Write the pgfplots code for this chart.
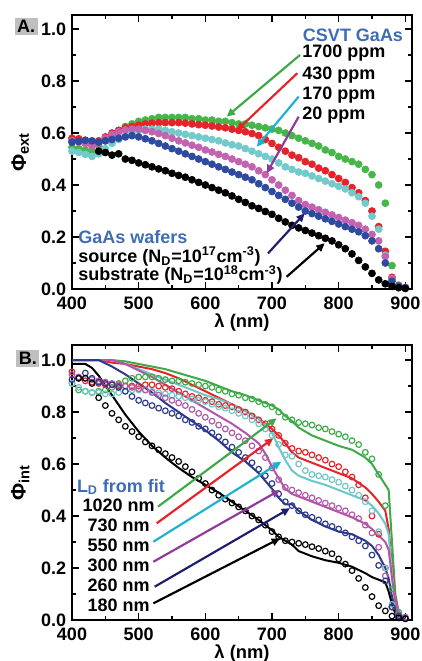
\documentclass[border=0pt]{standalone}
\usepackage{fontspec}
\setmainfont{Liberation Sans}
\usepackage{pgfplots}
\pgfplotsset{compat=1.18}
\usepackage{pgfplotstable}
\usetikzlibrary{arrows.meta}

% series colours
\definecolor{cg}{HTML}{46B649}
\definecolor{cr}{HTML}{E5232A}
\definecolor{cc}{HTML}{72CACA}
\definecolor{cm}{HTML}{C262B0}
\definecolor{cb}{HTML}{2E4A9E}
\definecolor{lg}{HTML}{3DAA47}
\definecolor{lc}{HTML}{6DC6C8}
\definecolor{lm}{HTML}{B355A8}
\definecolor{lb}{HTML}{2D3A8C}
% arrows and text
\definecolor{ac}{HTML}{1FB1D0}
\definecolor{am}{HTML}{8E3A98}
\definecolor{an}{HTML}{1E1E6E}
\definecolor{tblue}{HTML}{3E6DB5}

% panel A: external quantum yield, filled dots
\pgfplotstableread{
lam g r c m b k
400 0.545 0.58 0.53 0.57 0.565 nan
410 0.54 0.578 0.525 0.565 0.568 nan
420 0.535 0.572 0.518 0.56 0.572 nan
430 0.53 0.555 0.51 0.55 0.57 nan
440 0.55 0.57 0.52 0.56 0.565 0.53
450 0.57 0.585 0.54 0.58 0.57 0.525
460 0.59 0.60 0.56 0.595 0.575 0.515
470 0.61 0.61 0.575 0.605 0.58 0.52
480 0.625 0.62 0.59 0.612 0.585 0.50
490 0.635 0.625 0.60 0.615 0.59 0.495
500 0.645 0.63 0.61 0.615 0.585 0.485
510 0.65 0.635 0.615 0.61 0.578 0.478
520 0.655 0.638 0.615 0.605 0.57 0.47
530 0.66 0.64 0.615 0.598 0.56 0.462
540 0.66 0.64 0.61 0.59 0.55 0.455
550 0.66 0.64 0.605 0.58 0.54 0.445
560 0.66 0.64 0.60 0.57 0.53 0.437
570 0.66 0.638 0.595 0.562 0.52 0.43
580 0.655 0.635 0.59 0.553 0.51 0.42
590 0.655 0.632 0.585 0.545 0.50 0.41
600 0.65 0.63 0.58 0.535 0.49 0.40
610 0.65 0.627 0.575 0.527 0.48 0.39
620 0.645 0.623 0.57 0.518 0.47 0.38
630 0.645 0.62 0.562 0.51 0.46 0.37
640 0.64 0.615 0.555 0.50 0.45 0.358
650 0.635 0.61 0.55 0.49 0.44 0.345
660 0.635 0.605 0.54 0.48 0.43 0.333
670 0.63 0.598 0.53 0.47 0.42 0.32
680 0.625 0.59 0.52 0.455 0.405 0.31
690 0.62 0.575 0.51 0.44 0.39 0.298
700 0.615 0.56 0.50 0.42 0.375 0.287
710 0.61 0.545 0.485 0.40 0.36 0.272
720 0.60 0.53 0.47 0.38 0.345 0.258
730 0.59 0.515 0.46 0.36 0.33 0.245
740 0.58 0.505 0.45 0.34 0.315 0.235
750 0.57 0.49 0.445 0.325 0.30 0.225
760 0.56 0.48 0.435 0.315 0.29 0.215
770 0.55 0.465 0.425 0.305 0.28 0.205
780 0.535 0.455 0.415 0.295 0.27 0.195
790 0.525 0.44 0.405 0.285 0.26 0.185
800 0.51 0.425 0.395 0.275 0.25 0.17
810 0.50 0.41 0.385 0.265 0.24 0.155
820 0.49 0.39 0.37 0.255 0.23 0.135
830 0.48 0.37 0.355 0.245 0.22 0.11
840 0.46 0.34 0.33 0.23 0.205 0.085
850 0.44 0.30 0.28 0.21 0.185 0.06
860 0.40 0.24 0.23 0.185 0.155 0.035
870 0.33 0.145 0.13 0.125 0.10 0.02
880 0.09 0.045 0.04 0.04 0.03 0.01
890 0.015 0.012 0.01 0.01 0.01 0.005
900 0.005 0.005 0.005 0.005 0.005 0.002
}\extdata

% panel B: internal quantum yield, open circles
\pgfplotstableread{
lam g r c m b k
400 0.91 0.955 0.91 0.945 0.925 nan
410 0.885 0.93 0.895 0.935 0.93 0.93
420 0.88 0.92 0.88 0.93 0.95 0.93
430 0.875 0.915 0.875 0.925 0.93 0.91
440 0.88 0.91 0.875 0.92 0.915 0.855
450 0.885 0.905 0.87 0.915 0.91 0.825
460 0.895 0.905 0.87 0.91 0.905 0.795
470 0.91 0.90 0.875 0.905 0.895 0.77
480 0.92 0.90 0.88 0.90 0.88 0.745
490 0.93 0.90 0.885 0.895 0.86 0.725
500 0.935 0.90 0.885 0.89 0.845 0.705
510 0.935 0.905 0.885 0.885 0.835 0.685
520 0.935 0.905 0.88 0.875 0.825 0.67
530 0.93 0.90 0.875 0.865 0.815 0.655
540 0.925 0.895 0.87 0.855 0.805 0.64
550 0.92 0.89 0.865 0.845 0.795 0.625
560 0.92 0.88 0.86 0.835 0.785 0.61
570 0.915 0.87 0.855 0.825 0.77 0.59
580 0.91 0.86 0.85 0.81 0.76 0.57
590 0.905 0.855 0.845 0.795 0.745 0.545
600 0.90 0.845 0.84 0.78 0.735 0.525
610 0.895 0.84 0.83 0.765 0.72 0.50
620 0.885 0.83 0.82 0.75 0.705 0.48
630 0.88 0.825 0.815 0.735 0.685 0.465
640 0.87 0.82 0.805 0.72 0.665 0.45
650 0.865 0.81 0.795 0.705 0.645 0.435
660 0.855 0.80 0.785 0.69 0.625 0.42
670 0.85 0.785 0.77 0.67 0.605 0.40
680 0.84 0.77 0.755 0.65 0.58 0.385
690 0.83 0.755 0.735 0.625 0.555 0.365
700 0.82 0.735 0.71 0.585 0.525 0.34
710 0.80 0.71 0.675 0.54 0.485 0.32
720 0.78 0.68 0.635 0.51 0.455 0.305
730 0.77 0.66 0.63 0.50 0.44 0.30
740 0.76 0.65 0.60 0.49 0.42 0.295
750 0.755 0.645 0.575 0.48 0.405 0.29
760 0.75 0.635 0.56 0.47 0.395 0.282
770 0.74 0.625 0.555 0.46 0.385 0.275
780 0.735 0.615 0.55 0.45 0.37 0.265
790 0.725 0.60 0.54 0.44 0.36 0.255
800 0.715 0.59 0.53 0.43 0.35 0.235
810 0.705 0.57 0.515 0.42 0.335 0.215
820 0.69 0.55 0.50 0.405 0.32 0.19
830 0.675 0.52 0.48 0.39 0.305 0.16
840 0.645 0.47 0.455 0.365 0.285 0.125
850 0.62 0.40 0.42 0.335 0.25 0.09
860 0.56 0.33 0.34 0.28 0.21 0.055
870 0.44 0.20 0.20 0.17 0.15 0.035
880 0.12 0.05 0.06 0.05 0.05 0.015
890 0.03 0.02 0.02 0.02 0.015 0.008
900 0.01 0.01 0.01 0.01 0.005 0.005
}\intdata

% panel B: fits (solid lines)
\pgfplotstableread{
lam g r c m b k
400 1.0 1.0 1.0 1.0 1.0 0.985
420 1.0 1.0 1.0 1.0 1.0 0.985
430 1.0 1.0 1.0 1.0 1.0 0.97
440 1.0 1.0 1.0 1.0 1.0 0.94
460 1.0 0.99 1.0 1.0 0.975 0.865
480 0.995 0.985 0.985 0.985 0.945 0.79
500 0.985 0.975 0.965 0.96 0.91 0.725
520 0.975 0.965 0.945 0.935 0.875 0.67
540 0.965 0.95 0.925 0.905 0.835 0.625
560 0.95 0.93 0.905 0.875 0.80 0.585
580 0.935 0.905 0.885 0.845 0.765 0.55
600 0.92 0.88 0.865 0.815 0.73 0.52
620 0.90 0.855 0.85 0.785 0.69 0.49
640 0.88 0.83 0.83 0.755 0.645 0.455
660 0.865 0.805 0.805 0.72 0.61 0.42
680 0.845 0.775 0.775 0.68 0.565 0.385
690 0.835 0.755 0.75 0.64 0.535 0.365
700 0.825 0.735 0.72 0.59 0.505 0.345
710 0.81 0.71 0.665 0.545 0.47 0.32
720 0.785 0.68 0.615 0.505 0.445 0.305
730 0.765 0.645 0.575 0.485 0.445 0.29
740 0.74 0.625 0.555 0.475 0.42 0.265
760 0.71 0.605 0.535 0.455 0.385 0.245
780 0.69 0.585 0.52 0.435 0.36 0.23
800 0.67 0.565 0.50 0.415 0.34 0.22
820 0.655 0.545 0.48 0.395 0.33 0.205
840 0.625 0.51 0.46 0.37 0.305 0.18
850 0.60 0.485 0.44 0.35 0.285 0.165
860 0.56 0.455 0.41 0.325 0.25 0.155
870 0.52 0.42 0.37 0.30 0.20 0.145
875 0.50 0.35 0.33 0.27 0.16 0.11
880 0.30 0.20 0.18 0.16 0.09 0.06
885 0.10 0.08 0.07 0.07 0.04 0.025
890 0.03 0.03 0.03 0.03 0.02 0.01
900 0.0 0.0 0.0 0.0 0.0 0.0
}\fitdata

\newcommand{\lbl}{\bfseries\fontsize{10.8}{12}\selectfont}

\tikzset{arr/.style={-{Triangle[length=5pt,width=4.5pt]}, line width=1.3pt, draw=#1}}

\pgfplotsset{
  qy/.style={scale only axis, width=204pt,
    xmin=400, xmax=910, ymin=0,
    xtick={400,500,600,700,800,900}, minor x tick num=1,
    ytick={0,0.2,0.4,0.6,0.8,1.0}, minor y tick num=1,
    tick align=inside, major tick length=4pt, minor tick length=2.3pt,
    axis line style={line width=1.1pt},
    every tick/.style={black, line width=0.9pt},
    /pgf/number format/assume math mode=true,
    ticklabel style={font=\bfseries\fontsize{10.8}{12}\selectfont},
    xticklabel style={yshift=-1.2pt},
    yticklabel style={/pgf/number format/fixed, /pgf/number format/fixed zerofill, /pgf/number format/precision=1},
    xlabel={λ (nm)},
    xlabel style={font=\bfseries\fontsize{11}{13}\selectfont, at={(axis description cs:0.5,0)}, anchor=center, yshift=-20pt},
    ylabel style={font=\bfseries\fontsize{12.5}{14}\selectfont, at={(axis description cs:0,0.5)}, anchor=center, yshift=31pt},
    clip mode=individual},
  dots/.style={only marks, mark=*, mark size=2.1pt, mark options={draw=#1, fill=#1}},
  rings/.style={only marks, mark=o, mark size=1.7pt, mark options={draw=#1, line width=0.7pt}},
  fit/.style={no marks, draw=#1, line width=1.2pt},
}

\begin{document}
\begin{tikzpicture}
\path[use as bounding box] (0,0) rectangle (252.6pt,396.6pt);

% ---------------- A ----------------
\begin{axis}[qy, at={(43.2pt,223.2pt)}, anchor=south west, height=164.4pt, ymax=1.054,
  ylabel={Φ\textsubscript{ext}}]
\addplot[dots=cg] table[x=lam,y=g] {\extdata};
\addplot[dots=cr] table[x=lam,y=r] {\extdata};
\addplot[dots=cc] table[x=lam,y=c] {\extdata};
\addplot[dots=cm] table[x=lam,y=m] {\extdata};
\addplot[dots=cb] table[x=lam,y=b] {\extdata};
\addplot[dots=black] table[x=lam,y=k] {\extdata};

\node[fill=black!25, inner sep=1.5pt, font=\lbl] at (axis description cs:-0.135,0.957) {A.};

\node[anchor=west, inner sep=0, font=\lbl, text=tblue] at (axis cs:746,0.977) {CSVT GaAs};
\node[anchor=west, inner sep=0, font=\lbl] at (axis cs:745,0.908) {1700 ppm};
\node[anchor=west, inner sep=0, font=\lbl] at (axis cs:745,0.823) {430 ppm};
\node[anchor=west, inner sep=0, font=\lbl] at (axis cs:745,0.746) {170 ppm};
\node[anchor=west, inner sep=0, font=\lbl] at (axis cs:745,0.669) {20 ppm};
\draw[arr=lg] (axis cs:742,0.90) -- (axis cs:632,0.663);
\draw[arr=cr] (axis cs:738,0.83) -- (axis cs:647,0.61);
\draw[arr=ac] (axis cs:740,0.74) -- (axis cs:677,0.547);
\draw[arr=am] (axis cs:740,0.663) -- (axis cs:692,0.445);

\node[anchor=west, inner sep=0, font=\lbl, text=tblue] at (axis cs:409,0.200) {GaAs wafers};
\node[anchor=west, inner sep=0, font=\lbl] at (axis cs:409,0.124) {source (N\textsubscript{D}=10\textsuperscript{17}cm\textsuperscript{-3})};
\node[anchor=west, inner sep=0, font=\lbl] at (axis cs:409,0.054) {substrate (N\textsubscript{D}=10\textsuperscript{18}cm\textsuperscript{-3})};
\draw[arr=an] (axis cs:694,0.137) -- (axis cs:749,0.291);
\draw[arr=black] (axis cs:722,0.047) -- (axis cs:779,0.176);
\end{axis}

% ---------------- B ----------------
\begin{axis}[qy, at={(43.2pt,24.6pt)}, anchor=south west, height=165pt, ymax=1.058,
  ylabel={Φ\textsubscript{int}}]
\addplot[fit=lg] table[x=lam,y=g] {\fitdata};
\addplot[fit=cr] table[x=lam,y=r] {\fitdata};
\addplot[fit=lc] table[x=lam,y=c] {\fitdata};
\addplot[fit=lm] table[x=lam,y=m] {\fitdata};
\addplot[fit=lb] table[x=lam,y=b] {\fitdata};
\addplot[fit=black] table[x=lam,y=k] {\fitdata};
\addplot[rings=lg] table[x=lam,y=g] {\intdata};
\addplot[rings=cr] table[x=lam,y=r] {\intdata};
\addplot[rings=lc] table[x=lam,y=c] {\intdata};
\addplot[rings=lm] table[x=lam,y=m] {\intdata};
\addplot[rings=lb] table[x=lam,y=b] {\intdata};
\addplot[rings=black] table[x=lam,y=k] {\intdata};

\node[fill=black!25, inner sep=1.5pt, font=\lbl] at (axis description cs:-0.13,0.952) {B.};

\node[anchor=west, inner sep=0, font=\lbl, text=tblue] at (axis cs:407,0.512) {L\textsubscript{D} from fit};
\node[inner sep=0, font=\lbl] at (axis cs:470,0.442) {1020 nm};
\node[inner sep=0, font=\lbl] at (axis cs:470,0.365) {730 nm};
\node[inner sep=0, font=\lbl] at (axis cs:470,0.288) {550 nm};
\node[inner sep=0, font=\lbl] at (axis cs:470,0.212) {300 nm};
\node[inner sep=0, font=\lbl] at (axis cs:470,0.135) {260 nm};
\node[inner sep=0, font=\lbl] at (axis cs:470,0.058) {180 nm};
\draw[arr=lg] (axis cs:529,0.436) -- (axis cs:707,0.776);
\draw[arr=cr] (axis cs:527,0.372) -- (axis cs:702,0.699);
\draw[arr=ac] (axis cs:522,0.301) -- (axis cs:714,0.609);
\draw[arr=am] (axis cs:522,0.224) -- (axis cs:712,0.500);
\draw[arr=an] (axis cs:524,0.128) -- (axis cs:727,0.430);
\draw[arr=black] (axis cs:522,0.064) -- (axis cs:712,0.314);
\end{axis}
\end{tikzpicture}
\end{document}
